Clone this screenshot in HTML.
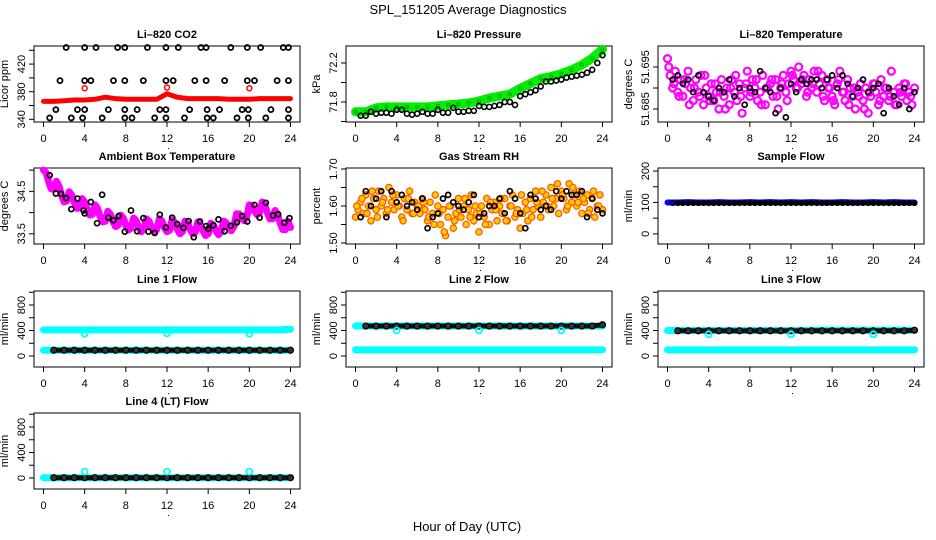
<!DOCTYPE html>
<html><head><meta charset="utf-8"><style>
html,body{margin:0;padding:0;background:#fff;}
svg{display:block;font-family:"Liberation Sans",sans-serif;}
</style></head><body>
<svg id="chart" width="936" height="540" viewBox="0 0 936 540" xmlns="http://www.w3.org/2000/svg">
<text x="468" y="14" text-anchor="middle" font-size="13">SPL_151205  Average Diagnostics</text>
<text x="467" y="531" text-anchor="middle" font-size="13">Hour of Day (UTC)</text>
</svg>
<script>
// ---- data ----
const hours = [0,4,8,12,16,20,24];
const co2BlackT = [2.2,4.0,5.1,7.2,7.9,10.1,11.9,13.1,15.3,15.8,18.2,19.8,21.1,23.3,23.8,
 1.6,4.0,4.6,6.8,7.9,9.7,11.9,12.6,14.7,15.8,17.6,19.8,20.5,22.7,23.8,
 1.2,3.3,4.0,6.3,7.9,9.1,11.3,11.9,14.2,15.9,17.1,19.3,19.9,22.1,23.8,
 0.6,2.7,3.8,5.7,7.9,8.6,10.8,11.9,13.7,15.9,16.5,18.8,19.9,21.6,23.8];
const co2BlackV = [444,444,444,444,444,444,444,444,444,444,444,444,444,444,444,
 396,396,396,396,396,396,396,396,396,396,396,396,396,396,396,
 354,354,354,354,354,354,354,354,354,354,354,354,354,354,354,
 342,342,342,342,342,342,342,342,342,342,342,342,342,342,342];
const co2Red = [366,366,367,368,368,369,372,370,369,369,369,369,377,372,370,370,370,370,369,369,369,370,370,370,370];
const co2RedDipT = [4,12,20];
const co2RedDipV = [385,386,385];
const pressGreen = [71.70,71.70,71.74,71.75,71.75,71.75,71.75,71.75,71.76,71.77,71.78,71.79,71.81,71.84,71.86,71.88,71.94,71.99,72.04,72.06,72.09,72.13,72.18,72.25,72.34];
const pressBlack = [71.66,71.66,71.70,71.68,71.69,71.69,71.68,71.72,71.72,71.68,71.67,71.68,71.70,71.68,71.68,71.72,71.69,71.69,71.74,71.70,71.70,71.71,71.71,71.76,71.75,71.75,71.76,71.77,71.80,71.80,71.77,71.86,71.88,71.90,71.92,71.96,72.01,72.01,72.02,72.03,72.05,72.06,72.07,72.08,72.10,72.13,72.20,72.28];
const liTempMag = [51.697,51.693,51.690,51.694,51.689,51.692,51.688,51.691,51.694,
 51.690,51.687,51.692,51.689,51.693,51.686,51.690,51.688,
 51.691,51.687,51.689,51.685,51.692,51.688,51.690,51.686,
 51.692,51.689,51.687,51.691,51.684,51.690,51.694,51.688,
 51.692,51.690,51.687,51.689,51.693,51.686,51.690,51.691,
 51.688,51.692,51.685,51.690,51.693,51.689,51.691,51.694,
 51.692,51.690,51.695,51.691,51.693,51.688,51.692,51.690,
 51.694,51.689,51.691,51.693,51.687,51.692,51.690,51.688,
 51.686,51.691,51.694,51.689,51.687,51.692,51.690,51.688,
 51.685,51.689,51.691,51.687,51.690,51.684,51.688,51.691,
 51.689,51.686,51.692,51.688,51.690,51.687,51.694,51.689,
 51.686,51.690,51.688,51.691,51.687,51.689,51.686,51.690];
const liTempMag2 = [51.695,51.691,51.688,51.692,51.686,51.690,51.688,51.693,51.687,51.691,51.689,51.685,51.690,51.693,51.688,51.691,51.689,51.692,51.686,51.690,51.692,51.688,51.691,51.687,51.693,51.690,51.692,51.689,51.691,51.694,51.688,51.690,51.687,51.692,51.689,51.686,51.690,51.688,51.685,51.689,51.691,51.687,51.690,51.688,51.686,51.689,51.691,51.688];
const liTempBlack = [51.692,51.693,51.691,51.692,51.689,51.693,51.689,51.688,51.687,51.690,51.689,51.692,51.688,51.690,51.686,51.690,51.689,51.694,51.690,51.689,51.684,51.690,51.683,51.691,51.689,51.692,51.691,51.692,51.692,51.690,51.692,51.693,51.690,51.693,51.691,51.688,51.690,51.692,51.689,51.690,51.691,51.684,51.690,51.688,51.686,51.690,51.685,51.689];
const ambMag = [35.0,34.94,34.73,34.56,34.55,34.74,34.63,34.41,34.25,34.27,34.49,34.41,34.23,34.10,34.11,34.33,34.25,34.07,33.94,33.96,34.18,34.10,33.91,33.78,33.80,34.03,33.96,33.79,33.67,33.70,33.94,33.87,33.70,33.59,33.63,33.87,33.81,33.65,33.55,33.60,33.85,33.80,33.65,33.55,33.60,33.85,33.80,33.65,33.55,33.58,33.83,33.77,33.61,33.50,33.55,33.80,33.75,33.60,33.50,33.54,33.78,33.72,33.57,33.46,33.50,33.75,33.71,33.57,33.48,33.54,33.80,33.76,33.63,33.57,33.67,33.97,33.97,33.87,33.81,33.90,34.18,34.16,34.03,33.95,34.00,34.25,34.18,34.00,33.85,33.85,34.05,33.95,33.75,33.60,33.60,33.80,33.65];
const ambBlackT = [0.6,1.2,1.7,2.2,2.7,3.3,3.9,4.0,4.6,5.2,5.7,6.3,6.8,7.3,7.9,8.5,9.1,9.7,10.2,10.8,11.3,11.9,12.5,13.0,13.6,14.1,14.6,15.2,15.8,16.0,16.5,17.0,17.6,18.2,18.8,19.3,19.8,20.5,21.0,21.6,22.3,22.8,23.4,23.9];
const ambBlackV = [34.88,34.45,34.44,34.34,34.08,34.33,34.05,33.98,34.25,33.75,34.42,33.88,33.82,33.92,33.55,34.05,33.56,33.87,33.55,33.52,33.95,33.65,33.88,33.73,33.64,33.80,33.42,33.79,33.68,33.62,33.70,33.84,33.56,33.69,33.77,33.92,33.79,34.18,33.88,34.23,33.93,33.96,33.76,33.87];
const rhOrange = [1.57,1.59,1.61,1.58,1.63,1.60,1.56,1.62,1.59,
 1.64,1.60,1.62,1.58,1.65,1.61,1.59,1.63,
 1.60,1.57,1.62,1.59,1.64,1.58,1.61,1.60,
 1.58,1.62,1.59,1.56,1.61,1.58,1.63,1.60,
 1.55,1.59,1.52,1.57,1.60,1.54,1.58,1.62,
 1.57,1.60,1.55,1.59,1.63,1.56,1.58,1.53,
 1.60,1.57,1.62,1.55,1.59,1.61,1.56,1.60,
 1.58,1.62,1.56,1.60,1.63,1.57,1.59,1.54,
 1.58,1.61,1.56,1.62,1.59,1.64,1.60,1.57,
 1.61,1.63,1.59,1.65,1.60,1.62,1.58,1.64,
 1.62,1.59,1.66,1.61,1.63,1.60,1.64,1.58,
 1.61,1.63,1.59,1.62,1.57,1.60,1.63,1.59];
const rhOrange2 = [1.60,1.62,1.58,1.64,1.57,1.61,1.59,1.63,1.60,1.56,1.62,1.58,1.60,1.61,1.57,1.55,1.58,1.53,1.60,1.56,1.59,1.62,1.57,1.60,1.58,1.55,1.61,1.59,1.62,1.56,1.60,1.58,1.63,1.59,1.57,1.61,1.64,1.60,1.62,1.66,1.63,1.60,1.65,1.61,1.62,1.58,1.64,1.60];
const rhBlack = [1.57,1.64,1.60,1.62,1.64,1.57,1.64,1.61,1.63,1.60,1.61,1.59,1.62,1.54,1.57,1.58,1.62,1.63,1.61,1.60,1.59,1.61,1.63,1.57,1.58,1.60,1.60,1.62,1.58,1.64,1.62,1.58,1.54,1.63,1.62,1.59,1.60,1.59,1.64,1.62,1.64,1.63,1.63,1.64,1.57,1.62,1.59,1.58];
const sampleBlue = [100,100,101,100,100,101,100,100,101,100,101,100,101,100,101,100,100,101,100,100,101,100,101,100,100];
const sampleBlack = [98,98,98,98,98,98,98,98,98,98,98,98,98,98,98,98,98,98,98,98,98,98,98,98,98];
const line1CyanHi = [410,410,410,410,410,410,410,410,410,410,410,410,410,410,410,410,410,410,410,410,410,410,410,410,420];
const line1CyanLo = [90,90,90,90,90,90,90,90,90,90,90,90,90,90,90,90,90,90,90,90,90,90,90,90,90];
const line1Black = [90,90,90,90,90,90,90,90,90,90,90,90,90,90,90,90,90,90,90,90,90,90,90,90,90];
const line1DipV = [350,355,350];
const line2CyanHi = [470,470,470,470,470,470,470,470,470,470,470,470,470,470,470,470,470,470,470,470,470,470,470,470,470];
const line2CyanLo = [95,95,95,95,95,95,95,95,95,95,95,95,95,95,95,95,95,95,95,95,95,95,95,95,95];
const line2Black = [470,470,470,470,470,470,470,470,470,470,470,470,470,470,470,470,470,470,470,470,470,470,470,470,490];
const line2DipV = [400,400,400];
const line3CyanHi = [400,400,400,400,400,400,400,400,400,400,400,400,400,400,405,405,405,405,405,405,405,405,405,405,400];
const line3CyanLo = [95,95,95,95,95,95,95,95,95,95,95,95,95,95,95,95,95,95,95,95,95,95,95,95,95];
const line3Black = [395,395,395,395,395,395,395,395,395,395,395,395,395,395,395,395,395,395,395,395,395,395,395,395,405];
const line3DipV = [340,340,340];
const line4Cyan = [5,5,5,5,5,5,5,5,5,5,5,5,5,5,5,5,5,5,5,5,5,5,5,5,5];
const line4Black = [5,5,5,5,5,5,5,5,5,5,5,5,5,5,5,5,5,5,5,5,5,5,5,5,5];
const line4BumpV = [100,100,100];
const dipT = [4,12,20];

// ---- drawing ----
const NS = 'http://www.w3.org/2000/svg';
const svg = document.getElementById('chart');
function mk(tag, attrs, parent){
  const e = document.createElementNS(NS, tag);
  for (const k in attrs) e.setAttribute(k, attrs[k]);
  (parent||svg).appendChild(e);
  return e;
}
const colL = [34, 346, 658], W = 266, rowT = [46, 168, 291, 413], H = 76;
function panel(col, row, title, ylab, ymin, ymax, ticks, labels, name){
  const L = colL[col], T = rowT[row];
  const g = mk('g', {});
  
  
  const sx = t => L + 9.5 + (t / 24) * (W - 19);
  const sy = v => T + H - (v - ymin) / (ymax - ymin) * H;
  const box = mk('rect', {x:L, y:T, width:W, height:H, fill:'none', stroke:'#000', 'stroke-width':1}, g);
  
  
  const tt = mk('text', {x:L + W/2, y:T - 8, 'text-anchor':'middle', 'font-size':11, 'font-weight':'bold'}, g);
  tt.textContent = title;
  
  
  hours.forEach(h => {
    mk('line', {x1:sx(h), x2:sx(h), y1:T+H, y2:T+H+5, stroke:'#000'}, g);
    const lb = mk('text', {x:sx(h), y:T+H+20, 'text-anchor':'middle', 'font-size':11}, g);
    lb.textContent = h;
    
    
  });
  mk('rect', {x:sx(12)+1, y:T+H+26, width:1, height:1, fill:'#000'}, g);
  ticks.forEach(v => {
    if (v < ymin || v > ymax) return;
    mk('line', {x1:L-5, x2:L, y1:sy(v), y2:sy(v), stroke:'#000'}, g);
  });
  labels.forEach(v => {
    const lb = mk('text', {x:L-9, y:sy(v), 'text-anchor':'middle', 'font-size':11, transform:`rotate(-90 ${L-9} ${sy(v)})`}, g);
    lb.textContent = String(v);
    
    
  });
  const yl = mk('text', {x:L-26, y:T+H/2, 'text-anchor':'middle', 'font-size':11, transform:`rotate(-90 ${L-26} ${T+H/2})`}, g);
  yl.textContent = ylab;
  
  
  const clip = mk('g', {}, g);
  return {sx, sy, g: clip};
}
function band(p, ts, vs, color, w, name){
  const pts = ts.map((t,i) => p.sx(t).toFixed(1) + ',' + p.sy(vs[i]).toFixed(1)).join(' ');
  const pl = mk('polyline', {points:pts, fill:'none', stroke:color, 'stroke-width':w, 'stroke-linejoin':'round', 'stroke-linecap':'round'}, p.g);
  
  
}
function pts(p, ts, vs, color, r, sw, name, fill){
  ts.forEach((t,i) => {
    const c = mk('circle', {cx:p.sx(t), cy:p.sy(vs[i]), r:r, fill:fill||'none', stroke:color, 'stroke-width':sw}, p.g);
    
    
  });
}
const tHour = co2Red.map((_, i) => i);
const tQuarter = liTempMag.map((_, i) => i * 0.25);
const tHalf = pressBlack.map((_, i) => 0.5 + i * 0.5);
const tHalfB = liTempMag2.map((_, i) => 0.125 + i * 0.5);

// CO2
let p = panel(0, 0, 'Li\u2013820 CO2', 'Licor ppm', 336.1, 446.2, [340,360,380,400,420,440], [340,380,420], 'co2');
band(p, tHour, co2Red, '#ff0000', 5, 'co2-red-series');
pts(p, co2RedDipT, co2RedDipV, '#ff0000', 2.5, 1.5, 'co2-red-point');
pts(p, co2BlackT, co2BlackV, '#000', 2.5, 1.8, 'co2-black-point');
// Pressure
p = panel(1, 0, 'Li\u2013820 Pressure', 'kPa', 71.595, 72.374, [71.6,71.8,72.0,72.2], [71.8,72.2], 'pressure');
band(p, tHour, pressGreen, '#00ee00', 9, 'pressure-green-series');
pts(p, tHour, pressGreen, '#119911', 1.5, 1, 'pressure-green-point');
pts(p, tHalf, pressBlack, '#000', 2.5, 1.6, 'pressure-black-point');
// Li temp
p = panel(2, 0, 'Li\u2013820 Temperature', 'degrees C', 51.6819, 51.7, [51.685,51.69,51.695], [51.685,51.695], 'li-temp');
pts(p, tQuarter, liTempMag, '#ff00ff', 3.5, 2.2, 'li-temp-magenta-point');
pts(p, tHalfB, liTempMag2, '#ff00ff', 3.5, 2.2, 'li-temp-magenta-point');
pts(p, tHalf, liTempBlack, '#000', 2.5, 1.7, 'li-temp-black-point');
// Ambient
p = panel(0, 1, 'Ambient Box Temperature', 'degrees C', 33.26, 35.05, [33.5,34,34.5,35], [33.5,34.5], 'ambient');
band(p, tQuarter, ambMag, '#ff00ff', 7, 'ambient-magenta-series');
pts(p, ambBlackT, ambBlackV, '#000', 2.5, 1.7, 'ambient-black-point');
// RH
p = panel(1, 1, 'Gas Stream RH', 'percent', 1.4973, 1.7027, [1.5,1.55,1.6,1.65,1.7], ['1.50','1.60','1.70'], 'rh');
pts(p, tQuarter, rhOrange, '#ff5500', 3.2, 1.2, 'rh-orange-point', '#ffcc00');
pts(p, tHalfB, rhOrange2, '#ff5500', 3.2, 1.2, 'rh-orange-point', '#ffcc00');
pts(p, tHalf, rhBlack, '#000', 2.5, 1.7, 'rh-black-point');
// Sample flow
p = panel(2, 1, 'Sample Flow', 'ml/min', -32.3, 209.7, [0,50,100,150,200], [0,100,200], 'sample-flow');
band(p, tHour, sampleBlue, '#0000ff', 6, 'sample-blue-series');
band(p, tHour.slice(1), sampleBlack.slice(1), '#000', 4, 'sample-black-series');
pts(p, tHalf, tHalf.map((_, i) => sampleBlack[Math.min(i, sampleBlack.length-1)]), '#000', 2.3, 1.4, 'sample-black-point');
// Flows
const fT = [0,200,400,600,800,1000], fL = [0,400,800];
function flowPanel(col,row,title,name,hi,lo,blk,dipV){
  const q = panel(col, row, title, 'ml/min', -172.5, 1019.6, fT, fL, name);
  if (hi) band(q, tHour, hi, '#00ffff', 7, name + '-cyan-high');
  band(q, tHour, lo, '#00ffff', 7, name + '-cyan-low');
  band(q, tHour.slice(1), blk.slice(1), '#111', 5, name + '-black-series');
  pts(q, tHour.slice(1), blk.slice(1), '#000', 3, 1.2, name + '-black-point', '#333');
  pts(q, dipT, dipV, '#00ffff', 3, 1.8, name + '-cyan-dip');
}
flowPanel(0, 2, 'Line 1 Flow', 'line1', line1CyanHi, line1CyanLo, line1Black, line1DipV);
flowPanel(1, 2, 'Line 2 Flow', 'line2', line2CyanHi, line2CyanLo, line2Black, line2DipV);
flowPanel(2, 2, 'Line 3 Flow', 'line3', line3CyanHi, line3CyanLo, line3Black, line3DipV);
flowPanel(0, 3, 'Line 4 (LT) Flow', 'line4', null, line4Cyan, line4Black, line4BumpV);
</script>
</body></html>
